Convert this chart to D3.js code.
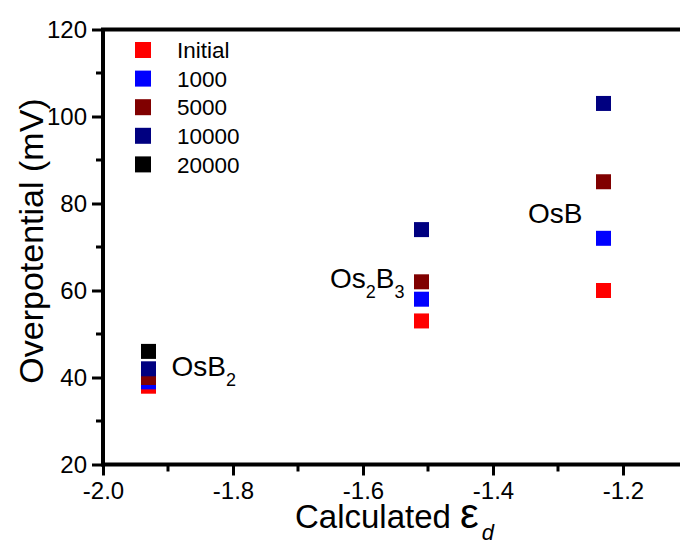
<!DOCTYPE html>
<html>
<head>
    <meta charset="utf-8">
    <title>Overpotential vs calculated ed</title>
    <script src="https://d3js.org/d3.v7.min.js"></script>
    <style>
        body { margin: 0; background: #fff; }
        text { font-family: "Liberation Sans", Arial, sans-serif; fill: #000; }
    </style>
</head>
<body>
<script>
    // materials and their calculated d-band centre
    var materials = ["OsB2", "Os2B3", "OsB"];
    var epsD = [-1.93, -1.51, -1.23];

    // overpotential (mV) after n cycles
    var cycles = ["Initial", "1000", "5000", "10000", "20000"];
    var initial = [38, 53, 60];
    var c1000 = [39, 58, 72];
    var c5000 = [40, 62, 85];
    var c10000 = [42, 74, 103];
    var c20000 = [46, null, null];
    var colors = ["#ff0000", "#0000ff", "#800000", "#000080", "#000000"];

    var xTicks = [-2.0, -1.8, -1.6, -1.4, -1.2];
    var yTicks = [20, 40, 60, 80, 100, 120];

    var w = 680, h = 542;
    var mLeft = 103, mTop = 29.5, mBottom = 464.5;

    var svg = d3.select("body").append("svg")
        .attr("width", w)
        .attr("height", h);

    var x = d3.scaleLinear().domain([-2.0, -1.1]).range([mLeft, mLeft + 0.9 * 650]);
    var y = d3.scaleLinear().domain([20, 120]).range([mBottom, mTop]);

    // frame
    svg.append("rect")
        .attr("x", x(-2.0)).attr("y", y(120))
        .attr("width", x(-1.1) - x(-2.0)).attr("height", y(20) - y(120))
        .attr("fill", "none").attr("stroke", "#000").attr("stroke-width", 4);

    // minor ticks
    var xMinor = [-1.9, -1.7, -1.5, -1.3];
    var yMinor = [30, 50, 70, 90, 110];
    svg.selectAll("line.xminor").data(xMinor).enter().append("line")
        .attr("x1", function(d){ return x(d); }).attr("x2", function(d){ return x(d); })
        .attr("y1", mBottom).attr("y2", mBottom + 7)
        .attr("stroke", "#000").attr("stroke-width", 3);
    svg.selectAll("line.yminor").data(yMinor).enter().append("line")
        .attr("y1", function(d){ return y(d); }).attr("y2", function(d){ return y(d); })
        .attr("x1", mLeft).attr("x2", mLeft - 7)
        .attr("stroke", "#000").attr("stroke-width", 3);

    // axes
    var fmt = function(d){ return d.toFixed(1); };
    var xAxis = d3.axisBottom(x).tickValues(xTicks).tickFormat(fmt)
        .tickSizeInner(11).tickSizeOuter(0).tickPadding(6);
    var gx = svg.append("g").attr("transform", "translate(0," + mBottom + ")").call(xAxis);
    gx.select(".domain").remove();
    gx.selectAll("line").attr("stroke-width", 3);
    gx.selectAll("text").style("font-size", "24px");

    var yAxis = d3.axisLeft(y).tickValues(yTicks).tickSizeInner(11).tickSizeOuter(0).tickPadding(5);
    var gy = svg.append("g").attr("transform", "translate(" + mLeft + ",0)").call(yAxis);
    gy.select(".domain").remove();
    gy.selectAll("line").attr("stroke-width", 3);
    gy.selectAll("text").style("font-size", "24px");
    svg.selectAll(".tick text").attr("fill", "#000");
    gx.attr("font-family", null); gy.attr("font-family", null);

    // data points, drawn in order so later cycles sit on top
    var series = [initial, c1000, c5000, c10000, c20000];
    var s = 15;
    series.forEach(function(vals, i) {
        var pts = vals.map(function(v, j){ return {x: epsD[j], y: v}; })
            .filter(function(d){ return d.y != null; });
        svg.selectAll("rect.s" + i).data(pts).enter().append("rect")
            .attr("class", "s" + i)
            .attr("x", function(d){ return x(d.x) - s / 2; })
            .attr("y", function(d){ return y(d.y) - s / 2; })
            .attr("width", s).attr("height", s)
            .attr("fill", colors[i]);
    });

    // legend
    var lg = svg.selectAll("g.leg").data(cycles).enter().append("g")
        .attr("transform", function(d, i){ return "translate(143," + (50 + i * 28.6) + ")"; });
    lg.append("rect").attr("x", -8).attr("y", -8).attr("width", 16).attr("height", 16)
        .attr("fill", function(d, i){ return colors[i]; });
    lg.append("text").attr("x", 34).attr("dy", "0.36em").style("font-size", "22.5px")
        .text(function(d){ return d; });

    // material labels (subscripted formulas)
    function label(parts, px, py, anchor) {
        var t = svg.append("text").attr("x", px).attr("y", py)
            .attr("text-anchor", anchor).style("font-size", "28px");
        parts.forEach(function(p, k) {
            t.append("tspan").text(p[0])
                .attr("dy", p[1] ? 10 : (k === 0 ? 0 : -10))
                .style("font-size", p[1] ? "18px" : "28px");
        });
    }
    label([["OsB", 0], ["2", 1]], x(epsD[0]) + 23, y(40.3), "start");
    label([["Os", 0], ["2", 1], ["B", 0], ["3", 1]], x(epsD[1]) - 17, y(60.5), "end");
    label([["OsB", 0]], x(epsD[2]) - 21, y(75.6), "end");

    // axis titles
    svg.append("text")
        .attr("transform", "translate(43,241) rotate(-90)")
        .attr("text-anchor", "middle")
        .style("font-size", "34px")
        .text("Overpotential (mV)");

    var xt = svg.append("text").attr("x", 295).attr("y", 528).style("font-size", "33px");
    xt.append("tspan").text("Calculated ");
    xt.append("tspan").text("\u03b5").style("font-size", "42px");
    xt.append("tspan").text("d").attr("dy", 12).attr("dx", 3).style("font-size", "22px").style("font-style", "italic");
</script>
</body>
</html>
